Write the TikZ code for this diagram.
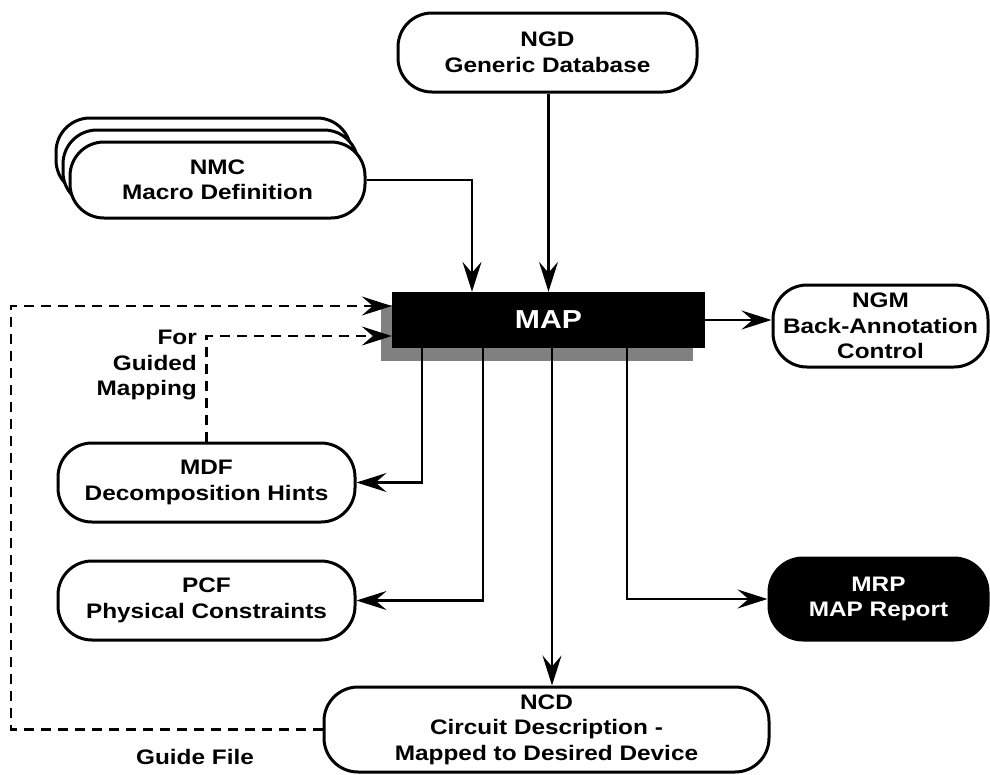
\documentclass[tikz,border=0pt]{standalone}
\usepackage{fontspec}
\setmainfont{Liberation Sans}[FakeStretch=1.16]
\usetikzlibrary{arrows.meta}
\definecolor{shadowgray}{RGB}{128,128,128}
\begin{document}
\begin{tikzpicture}[x=1pt,y=-1pt,
  txt/.style={font=\bfseries\fontsize{21}{25.5}\selectfont, align=center},
  box/.style={txt, draw, line width=3pt, rounded corners=34pt, fill=white, inner sep=0pt},
  darkbox/.style={box, fill=black, text=white},
  arr/.style={line width=2.3pt, -{Stealth[length=30pt,width=19pt,inset=11pt]}},
  guideline/.style={arr, line width=2.6pt, dash pattern=on 10pt off 7pt}
]
\useasboundingbox (0,0) rectangle (990,774);

% input files
\node[box, minimum width=299pt, minimum height=79pt] (ngd) at (547.5,52.5) {NGD\\Generic Database};
\node[box, minimum width=295pt, minimum height=76pt] (nmcback2) at (203.5,156) {};
\node[box, minimum width=295pt, minimum height=76pt] (nmcback1) at (210.5,168) {};
\node[box, minimum width=295pt, minimum height=76pt] (nmc) at (217.5,180) {NMC\\Macro Definition};

% the MAP process with its drop shadow
\node[fill=shadowgray, minimum width=312pt, minimum height=56pt, inner sep=0pt] (mapshadow) at (537,333) {};
\node[fill=black, text=white, minimum width=313pt, minimum height=56pt, inner sep=0pt,
      font=\bfseries\fontsize{26}{30}\selectfont] (map) at (548.5,320) {MAP};

% output files
\node[box, minimum width=215pt, minimum height=82pt] (ngm) at (880.5,326) {NGM\\Back-Annotation\\Control};
\node[box, minimum width=297pt, minimum height=79pt] (mdf) at (206.5,482.5) {MDF\\Decomposition Hints};
\node[box, minimum width=297pt, minimum height=79pt] (pcf) at (206.5,600.5) {PCF\\Physical Constraints};
\node[darkbox, minimum width=219pt, minimum height=82pt] (mrp) at (878.5,599) {MRP\\MAP Report};
\node[box, minimum width=445pt, minimum height=85pt] (ncd) at (546.5,729.5) {NCD\\Circuit Description -\\Mapped to Desired Device};

% labels
\node[txt, anchor=east, align=right, inner sep=0pt] (guided) at (197,365) {For\\Guided\\Mapping};
\node[txt, inner sep=0pt] (guidefile) at (195,757) {Guide File};

% inputs into MAP
\draw[arr] (nmc.east) -| ([xshift=-76.5pt]map.north);
\draw[arr] (ngd.south -| map.north) -- (map.north);

% outputs from MAP
\draw[arr] (map.east) -- (map.east -| ngm.west);
\draw[arr] ([xshift=-126.5pt]map.south) |- (mdf.east);
\draw[arr] ([xshift=-65.5pt]map.south) |- (pcf.east);
\draw[arr] ([xshift=3.5pt]map.south) -- ([xshift=3.5pt]map.south |- ncd.north);
\draw[arr] ([xshift=78.5pt]map.south) |- (mrp.west);

% guide feedback paths
\coordinate (gturn) at (11,306);
\draw[guideline] (ncd.west) -| (gturn) -- ([yshift=14pt]map.west);
\draw[guideline] (mdf.north) |- ([yshift=-16pt]map.west);
\end{tikzpicture}
\end{document}
